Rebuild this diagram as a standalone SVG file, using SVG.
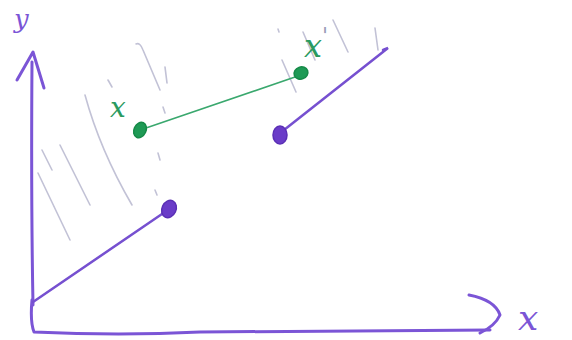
<svg xmlns="http://www.w3.org/2000/svg" width="572" height="340" viewBox="0 0 572 340">
<style>
.ax{fill:none;stroke:#7b55d6;stroke-width:3;stroke-linecap:round;stroke-linejoin:round}
.pl{fill:none;stroke:#7650d0;stroke-width:2.5;stroke-linecap:round}
.gl{fill:none;stroke:#3aa86e;stroke-width:1.6;stroke-linecap:round}
.ht{fill:none;stroke:#c2c2d6;stroke-width:1.6;stroke-linecap:round}
.pd{fill:#6a3cc8;stroke:#5a2fb5;stroke-width:1.5}
.gd{fill:#1e9a55;stroke:#168a48;stroke-width:1.5}
.lbp{font-family:"DejaVu Serif",serif;fill:#7b55d6;font-style:italic}
.lbg{font-family:"DejaVu Serif",serif;fill:#2a9a60;font-style:italic}
</style>
<rect width="572" height="340" fill="#ffffff"/>
<g id="hatching">
<path class="ht" d="M136,44 Q140,42 143,50 L160,90"/>
<path class="ht" d="M165,67 L167,83"/>
<path class="ht" d="M163,107 L165,113"/>
<path class="ht" d="M158,153 L160,160"/>
<path class="ht" d="M155,190 L157,195"/>
<path class="ht" d="M85,95 Q100,150 132,205"/>
<path class="ht" d="M108,80 L112,87"/>
<path class="ht" d="M60,145 L90,205"/>
<path class="ht" d="M38,173 L70,240"/>
<path class="ht" d="M42,150 L52,170"/>
<path class="ht" d="M303,32 L315,60"/>
<path class="ht" d="M333,20 L348,52"/>
<path class="ht" d="M375,28 L378,50"/>
<path class="ht" d="M282,60 L296,92"/>
<path class="ht" d="M278,29 L279,32"/>
</g>
<g id="axes">
<path class="ax" d="M33,305 Q31,200 32,62"/>
<path class="ax" d="M17,80 L33,52 L44,88"/>
<path class="ax" d="M32,300 Q30,322 34,332 Q120,336 200,332 L490,330"/>
<path class="ax" d="M469,295 Q495,300 500,315 Q495,326 480,333"/>
<text class="lbp" x="14" y="28" font-size="26">y</text>
<text class="lbp" x="518" y="330" font-size="36">x</text>
</g>
<g id="connectors">
<path class="pl" d="M33,302 L162,214"/>
<path class="pl" d="M284,130 L388,48 L383,50"/>
<path class="gl" d="M146,128 L295,77"/>
</g>
<g id="node-p1"><ellipse class="pd" cx="169" cy="209" rx="7" ry="9" transform="rotate(25 169 209)"/></g>
<g id="node-p2"><ellipse class="pd" cx="280" cy="135" rx="7" ry="9"/></g>
<g id="node-g1"><ellipse class="gd" cx="140" cy="130" rx="6" ry="8" transform="rotate(25 140 130)"/>
<text class="lbg" x="110" y="117" font-size="28">x</text></g>
<g id="node-g2"><ellipse class="gd" cx="301" cy="73" rx="7" ry="6" transform="rotate(-20 301 73)"/>
<text class="lbg" x="304" y="57" font-size="32">x<tspan fill="#9a9ab8" font-size="22" dy="-14">'</tspan></text></g>
</svg>
